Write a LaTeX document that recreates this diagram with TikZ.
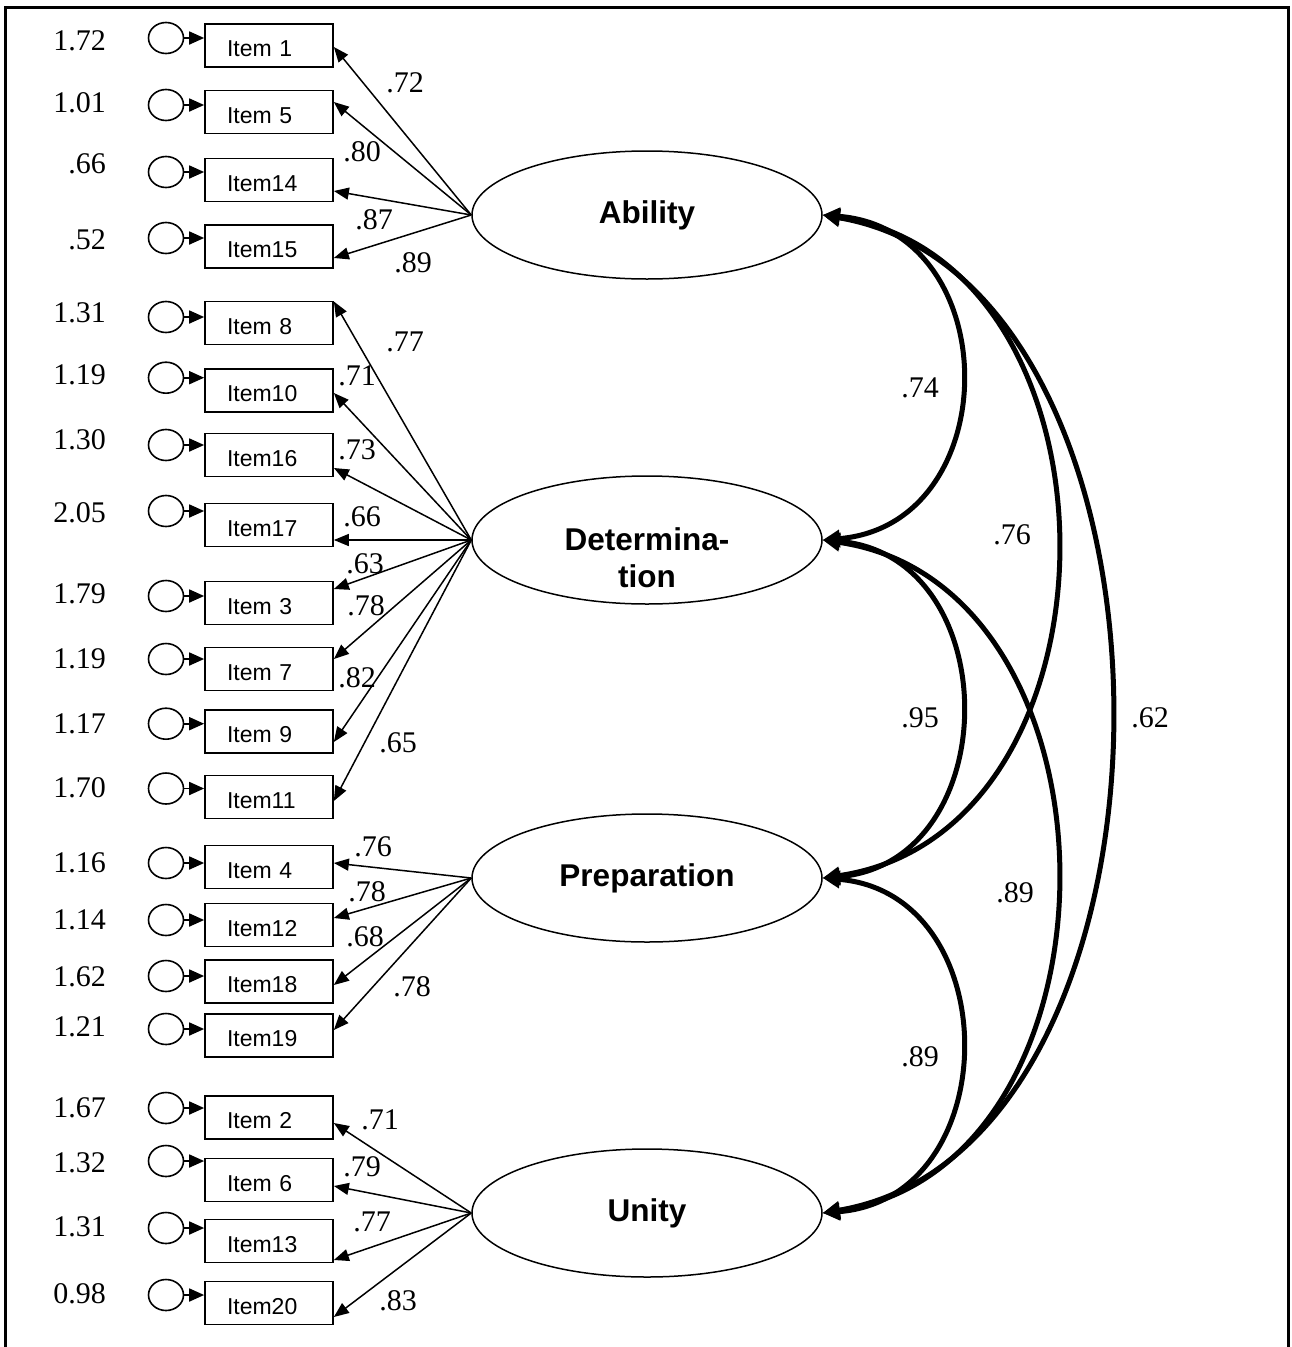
\documentclass[tikz,border=0pt]{standalone}
\usepackage{fontspec}
\setmainfont{Liberation Serif}
\newfontfamily\arialf{Liberation Sans}
\usetikzlibrary{shapes.geometric,arrows.meta,calc}
\begin{document}
\begin{tikzpicture}[x=1pt,y=-1pt,
  itembox/.style={draw, line width=1.7pt, minimum width=128pt, minimum height=43pt,
    text width=84pt, inner xsep=22pt, inner ysep=0pt, align=left,
    text height=24pt, text depth=1.5pt, font=\arialf\fontsize{23}{23}\selectfont},
  errc/.style={draw, ellipse, line width=1.6pt, minimum width=35pt, minimum height=31pt, inner sep=0pt},
  num/.style={inner sep=0pt, font=\fontsize{30}{30}\selectfont},
  lat/.style={draw, ellipse, line width=1.5pt, minimum width=350pt, minimum height=128pt,
    inner sep=0pt, align=center, font=\arialf\bfseries\fontsize{31.5}{37}\selectfont},
  lattext/.style={inner sep=0pt, align=center, font=\arialf\bfseries\fontsize{31.5}{37}\selectfont},
  errarrow/.style={line width=1.8pt, -{Triangle[length=15pt,width=13pt]}},
  load/.style={line width=1.5pt, -{Triangle[length=15pt,width=12pt]}},
  cov/.style={line width=5pt, {Triangle[length=17pt,width=17pt]}-{Triangle[length=17pt,width=17pt]}}
]
\useasboundingbox (0,0) rectangle (1292,1347);
\draw[line width=3pt] (5,1347) -- (5,7) -- (1288,7) -- (1288,1347);

% observed items, error terms, residual variances
\foreach \n/\t/\yb/\cy/\yl/\v in {
 1/Item 1/45.5/38/40.5/1.72,
 5/Item 5/112/105/103/1.01,
 14/Item14/180/172/164/.66,
 15/Item15/246.5/238/240/.52,
 8/Item 8/323/317/312.6/1.31,
 10/Item10/390.5/377.7/375/1.19,
 16/Item16/455/445/440/1.30,
 17/Item17/525/511/513/2.05,
 3/Item 3/603/596/594/1.79,
 7/Item 7/669/659/659/1.19,
 9/Item 9/731.5/723.7/723.7/1.17,
 11/Item11/797/788.5/788/1.70,
 4/Item 4/867/863/863/1.16,
 12/Item12/925/920/920/1.14,
 18/Item18/981.5/976/977/1.62,
 19/Item19/1035.5/1029/1027/1.21,
 2/Item 2/1117.5/1108/1108/1.67,
 6/Item 6/1180/1161/1163/1.32,
 13/Item13/1241/1228/1227/1.31,
 20/Item20/1303/1295/1294/0.98}{
  \node[itembox] (i\n) at (269,\yb) {\t};
  \node[errc] (e\n) at (166,\cy) {};
  \node[num, anchor=east] (r\n) at (106,\yl) {\v};
  \draw[errarrow] (e\n.east) -- (e\n.east -| i\n.west);
}

% latent factors
\node[lat] (abi) at (647,215) {Ability};
\node[lat] (det) at (647,540) {};
\node[lattext] (dettext) at ($(det)+(0,18)$) {Determina-\\tion};
\node[lat] (prep) at (647,878) {Preparation};
\node[lat] (uni) at (647,1213) {Unity};

% loadings
\foreach \n/\dy in {1/1.5, 5/-10, 14/11, 15/11.5}
  \draw[load] (abi.west) -- ($(i\n.east)+(0,\dy)$);
\foreach \n/\dy in {8/-21.5, 10/2.5, 16/13, 17/15, 3/-14, 7/-10, 9/10.5, 11/4}
  \draw[load] (det.west) -- ($(i\n.east)+(0,\dy)$);
\foreach \n/\dy in {4/-4, 12/-7, 18/3.5, 19/-5.5}
  \draw[load] (prep.west) -- ($(i\n.east)+(0,\dy)$);
\foreach \n/\dy in {2/5.5, 6/6, 13/19, 20/14}
  \draw[load] (uni.west) -- ($(i\n.east)+(0,\dy)$);

% loading labels
\foreach \k/\x/\y/\v in {
 a1/405/83/.72, a2/362/152/.80, a3/374/220/.87, a4/413/263/.89,
 d1/405/342/.77, d2/357/376/.71, d3/357/450/.73, d4/362/517/.66,
 d5/365/564/.63, d6/366/606/.78, d7/357/678/.82, d8/398/743/.65,
 p1/373/847/.76, p2/367/892/.78, p3/365/937/.68, p4/412/987/.78,
 u1/380/1120/.71, u2/362/1167/.79, u3/372/1222/.77, u4/398/1301/.83}
  \node[num] (l\k) at (\x,\y) {\v};

% covariances
\draw[cov] (abi.east) .. controls ($(abi.east)+(184,15)$) and ($(det.east)+(184,-15)$) .. (det.east);
\draw[cov] (det.east) .. controls ($(det.east)+(184,15)$) and ($(prep.east)+(184,-15)$) .. (prep.east);
\draw[cov] (prep.east) .. controls ($(prep.east)+(184,15)$) and ($(uni.east)+(184,-15)$) .. (uni.east);
\draw[cov] (abi.east) .. controls ($(abi.east)+(311,45)$) and ($(prep.east)+(311,-45)$) .. (prep.east);
\draw[cov] (det.east) .. controls ($(det.east)+(311,45)$) and ($(uni.east)+(311,-45)$) .. (uni.east);
\draw[cov] (abi.east) .. controls ($(abi.east)+(383,65)$) and ($(uni.east)+(383,-65)$) .. (uni.east);

\node[num] (c1) at (920,388) {.74};
\node[num] (c2) at (920,718) {.95};
\node[num] (c3) at (920,1057) {.89};
\node[num] (c4) at (1012,535) {.76};
\node[num] (c5) at (1015,893) {.89};
\node[num] (c6) at (1150,718) {.62};
\end{tikzpicture}
\end{document}
